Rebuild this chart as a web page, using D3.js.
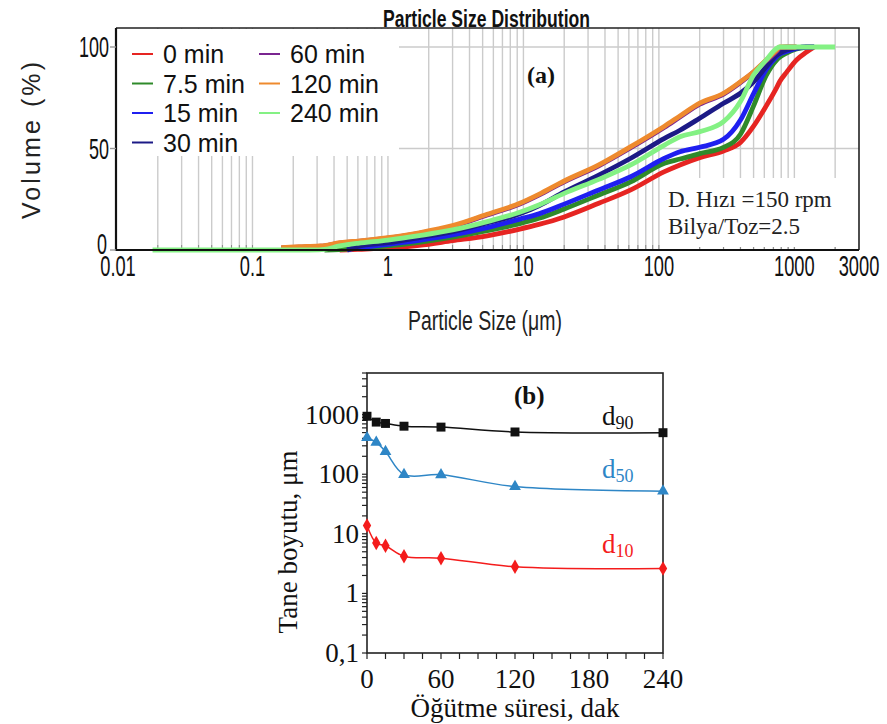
<!DOCTYPE html>
<html>
<head>
<meta charset="utf-8">
<script src="https://cdn.jsdelivr.net/npm/d3@7"></script>
<style>
  html, body { margin: 0; padding: 0; background: #fff; }
  svg { display: block; }
</style>
</head>
<body>
<svg id="fig" width="887" height="724"></svg>
<script>
// ---------- (a) cumulative particle size distribution ----------
const sizeBins = [0.0183, 0.163, 0.22, 0.31, 0.34, 0.44, 0.5, 0.6, 1.0, 1.7, 3.0, 5.4, 9.4, 13, 20, 36, 62, 110, 143, 200, 300, 400, 500, 620, 740, 780, 875, 1036, 1230, 1400, 2000];
const N = null;
const vol0   = [N, N, N, N, N, 0, 0.1, 0.3, 1.0, 2.3, 4.6, 7.0, 10.3, 12.6, 16.3, 23, 29.6, 38.6, 41.9, 45.5, 48.8, 53, 61, 71, 80, 83, 87.5, 93.6, 97.5, 100, N];
const vol7_5 = [N, N, N, N, 0, 0.2, 0.4, 0.8, 2.0, 3.8, 6.3, 9.5, 13, 15.6, 20.2, 27.1, 33.6, 42.7, 44.8, 47.5, 50.5, 57, 71, 86, 93.6, 95, 97, 99, 100, N, N];
const vol15  = [N, N, N, N, N, N, 0, 1.0, 2.8, 4.8, 7.4, 11.0, 15.2, 17.8, 22.6, 29.6, 36.1, 45.2, 48.4, 50.6, 54.5, 64, 77, 89, 95.2, 96.5, 97.8, 99.3, 100, 100, N];
const vol30  = [N, N, N, N, N, N, 0, 1.8, 3.6, 6.1, 9.0, 13.3, 17.8, 21.8, 28.6, 36.9, 45.2, 55, 59, 64.9, 72.3, 77.2, 82.9, 90.3, 96, 97, 98.5, 99.6, 100, 100, N];
const vol60  = [N, 1.0, 1.4, 1.8, 2.0, 3.4, 3.8, 4.2, 5.8, 8.2, 11.6, 17.2, 22.6, 27.0, 33.6, 41.5, 50.4, 60.5, 65.5, 71.8, 76.8, 82.5, 87.6, 93.2, 97.8, 99.5, 100, 100, N, N, N];
const vol120 = [N, 1.2, 1.6, 2.0, 2.2, 3.6, 4.0, 4.4, 6.1, 8.5, 12, 17.6, 23, 27.4, 34, 41.9, 50.9, 61, 66, 72.3, 77.2, 82.9, 87.8, 93.6, 98.5, 100, 100, 100, N, N, N];
const vol240 = [0, 0, 0, 0.1, 0.3, 2.0, 2.6, 3.3, 4.9, 7.1, 9.9, 14, 18.6, 22.2, 27.9, 34.8, 41.9, 51.7, 55.8, 58.3, 63.2, 73.1, 86.2, 93.6, 99.3, 100, 100, 100, 100, 100, 100];

const seriesNames  = ["0 min", "7.5 min", "15 min", "30 min", "60 min", "120 min", "240 min"];
const seriesColors = ["#e62522", "#2f8a2a", "#1f1ff0", "#1c1a86", "#7a2590", "#ee8a2e", "#84f184"];
const seriesValues = [vol0, vol7_5, vol15, vol30, vol60, vol120, vol240];

const sizeTicks   = [0.01, 0.1, 1, 10, 100, 1000, 3000];
const sizeTickTxt = ["0.01", "0.1", "1", "10", "100", "1000", "3000"];
const volTicks    = [0, 50, 100];

// ---------- (b) characteristic diameters vs. milling time ----------
const millTime = [0, 7.5, 15, 30, 60, 120, 240];
const d90 = [940, 750, 712, 640, 618, 512, 498];
const d50 = [410, 342, 240, 99, 98, 62, 52];
const d10 = [13.8, 7.0, 6.3, 4.2, 3.9, 2.8, 2.62];
const timeTicks = [0, 60, 120, 180, 240];
const sizeLogTicks = [0.1, 1, 10, 100, 1000];
const sizeLogTxt = ["0,1", "1", "10", "100", "1000"];

const svg = d3.select("#fig");
const SANS = "'Liberation Sans', Arial, sans-serif";
const SERIF = "'Liberation Serif', 'Times New Roman', serif";

// ======================= panel (a) =======================
const A = { left: 116, right: 859, top: 28, bottom: 250 };
const xA = d3.scaleLog().domain([0.01, 3000]).range([117, 859]);
const yA = d3.scaleLinear().domain([0, 100]).range([250, 47]);
const gA = svg.append("g");

// log grid: 1..9 per decade from 0.02 to 2000
const gridVals = [];
for (let e = -2; e <= 3; e++) {
  for (let k = 1; k <= 9; k++) {
    const v = k * Math.pow(10, e);
    if (v >= 0.019 && v <= 2001) gridVals.push(v);
  }
}
gA.append("g").selectAll("line").data(gridVals).join("line")
  .attr("x1", d => xA(d)).attr("x2", d => xA(d))
  .attr("y1", A.top).attr("y2", A.bottom)
  .attr("stroke", "#cbcbcb").attr("stroke-width", 1.4);
gA.append("g").selectAll("line").data([50, 100]).join("line")
  .attr("x1", A.left).attr("x2", A.right)
  .attr("y1", d => yA(d)).attr("y2", d => yA(d))
  .attr("stroke", "#cbcbcb").attr("stroke-width", 1.4);

// small inner ticks on the size axis
gA.append("g").selectAll("line").data(gridVals).join("line")
  .attr("x1", d => xA(d)).attr("x2", d => xA(d))
  .attr("y1", A.bottom).attr("y2", A.bottom - 5)
  .attr("stroke", "#888").attr("stroke-width", 1);

// white panels behind legend and run notes
gA.append("rect").attr("x", A.left + 1).attr("y", A.top + 1).attr("width", 282).attr("height", 127).attr("fill", "#fff");
gA.append("rect").attr("x", 661).attr("y", 178).attr("width", 196).attr("height", 69).attr("fill", "#fff");

// curves
const lineA = d3.line()
  .defined(d => d.v !== null)
  .x(d => xA(d.s)).y(d => yA(d.v))
  .curve(d3.curveMonotoneX);
seriesValues.forEach((vals, i) => {
  const pts = sizeBins.map((s, j) => ({ s, v: vals[j] }));
  gA.append("path").datum(pts)
    .attr("d", lineA)
    .attr("fill", "none")
    .attr("stroke", seriesColors[i])
    .attr("stroke-width", 4.8)
    .attr("stroke-linejoin", "round");
});

// frame
gA.append("path")
  .attr("d", `M${A.left},${A.top}H${A.right}V${A.bottom}`)
  .attr("fill", "none").attr("stroke", "#222").attr("stroke-width", 1.6);
gA.append("path")
  .attr("d", `M${A.left},${A.top}V${A.bottom}H${A.right}`)
  .attr("fill", "none").attr("stroke", "#111").attr("stroke-width", 2.2);

// volume ticks
gA.append("g").selectAll("line").data(volTicks).join("line")
  .attr("x1", A.left - 6).attr("x2", A.left)
  .attr("y1", d => yA(d)).attr("y2", d => yA(d))
  .attr("stroke", "#999").attr("stroke-width", 1.4);
gA.append("g").selectAll("text").data(volTicks).join("text")
  .attr("transform", d => `translate(${d === 0 ? 107 : 109},${yA(d) + (d === 0 ? 4 : 10)}) scale(0.62,1)`)
  .attr("text-anchor", "end")
  .attr("font-family", SANS).attr("font-size", 29).attr("fill", "#111")
  .text(d => d);

// size tick labels
gA.append("g").selectAll("text").data(sizeTicks).join("text")
  .attr("transform", d => `translate(${xA(d) + (d === 0.01 ? 1 : 0)},${276}) scale(0.63,1)`)
  .attr("text-anchor", "middle")
  .attr("font-family", SANS).attr("font-size", 29).attr("fill", "#111")
  .text((d, i) => sizeTickTxt[i]);

// titles
svg.append("text")
  .attr("x", 383).attr("y", 27)
  .attr("textLength", 207).attr("lengthAdjust", "spacingAndGlyphs")
  .attr("font-family", SANS).attr("font-weight", "bold").attr("font-size", 23)
  .attr("fill", "#111")
  .text("Particle Size Distribution");
svg.append("text")
  .attr("x", 408).attr("y", 330)
  .attr("textLength", 154).attr("lengthAdjust", "spacingAndGlyphs")
  .attr("font-family", SANS).attr("font-size", 27).attr("fill", "#222")
  .text("Particle Size (μm)");
svg.append("text")
  .attr("transform", "translate(40,219) rotate(-90)")
  .attr("textLength", 157).attr("lengthAdjust", "spacing")
  .attr("font-family", SANS).attr("font-size", 25).attr("fill", "#222")
  .text("Volume (%)");

// legend
const legRows = [63, 92.5, 122, 151.5];
seriesNames.forEach((name, i) => {
  const col = i < 4 ? 0 : 1;
  const row = i < 4 ? i : i - 4;
  const lx = col === 0 ? 132 : 259;
  const ty = legRows[row];
  gA.append("line")
    .attr("x1", lx).attr("x2", lx + 21)
    .attr("y1", ty - 9).attr("y2", ty - 9)
    .attr("stroke", seriesColors[i]).attr("stroke-width", 2);
  gA.append("text")
    .attr("x", lx + 31).attr("y", ty)
    .attr("font-family", SANS).attr("font-size", 25).attr("fill", "#111")
    .text(name);
});

// panel notes
gA.append("text").attr("x", 527).attr("y", 83)
  .attr("font-family", SERIF).attr("font-weight", "bold").attr("font-size", 24).attr("fill", "#111")
  .text("(a)");
gA.append("text").attr("x", 668).attr("y", 207)
  .attr("font-family", SERIF).attr("font-size", 23).attr("fill", "#222")
  .text("D. Hızı =150 rpm");
gA.append("text").attr("x", 668).attr("y", 234)
  .attr("font-family", SERIF).attr("font-size", 23).attr("fill", "#222")
  .text("Bilya/Toz=2.5");

// ======================= panel (b) =======================
const B = { left: 367, right: 663, top: 373, bottom: 653 };
const xB = d3.scaleLinear().domain([0, 240]).range([B.left, B.right]);
const yB = d3.scaleLog().domain([0.1, 5000]).range([B.bottom, B.top]);
const gB = svg.append("g");

// axes with outward ticks
const minorY = [];
for (let e = -1; e <= 3; e++) {
  for (let k = 1; k <= 9; k++) {
    const v = k * Math.pow(10, e);
    if (v <= 5000) minorY.push(v);
  }
}
gB.append("g").selectAll("line").data(minorY).join("line")
  .attr("x1", B.left - 5).attr("x2", B.left)
  .attr("y1", d => yB(d)).attr("y2", d => yB(d))
  .attr("stroke", "#222").attr("stroke-width", 1.2);
const minorX = d3.range(0, 241, 15);
gB.append("g").selectAll("line").data(minorX).join("line")
  .attr("x1", d => xB(d)).attr("x2", d => xB(d))
  .attr("y1", B.bottom).attr("y2", B.bottom + 6)
  .attr("stroke", "#222").attr("stroke-width", 1.2);

gB.append("rect")
  .attr("x", B.left).attr("y", B.top)
  .attr("width", B.right - B.left).attr("height", B.bottom - B.top)
  .attr("fill", "none").attr("stroke", "#222").attr("stroke-width", 1.6);

gB.append("g").selectAll("text").data(sizeLogTicks).join("text")
  .attr("x", 359).attr("y", d => yB(d) + 9)
  .attr("text-anchor", "end")
  .attr("font-family", SERIF).attr("font-size", 27).attr("fill", "#111")
  .text((d, i) => sizeLogTxt[i]);
gB.append("g").selectAll("text").data(timeTicks).join("text")
  .attr("x", d => xB(d)).attr("y", 688)
  .attr("text-anchor", "middle")
  .attr("font-family", SERIF).attr("font-size", 27).attr("fill", "#111")
  .text(d => d);

svg.append("text")
  .attr("x", 515).attr("y", 717)
  .attr("text-anchor", "middle")
  .attr("font-family", SERIF).attr("font-size", 27).attr("fill", "#111")
  .text("Öğütme süresi, dak");
svg.append("text")
  .attr("transform", "translate(297,542) rotate(-90)")
  .attr("text-anchor", "middle")
  .attr("font-family", SERIF).attr("font-size", 27).attr("fill", "#111")
  .text("Tane boyutu, μm");

const lineB = d3.line()
  .x(d => xB(d.t)).y(d => yB(d.v))
  .curve(d3.curveCatmullRom.alpha(0.5));

const bSeries = [
  { vals: d90, color: "#111111", shape: d3.symbolSquare, size: 80 },
  { vals: d50, color: "#2e86c6", shape: d3.symbolTriangle, size: 60 },
  { vals: d10, color: "#f41c1c", shape: d3.symbolDiamond, size: 60 }
];
bSeries.forEach(s => {
  const pts = millTime.map((t, i) => ({ t, v: s.vals[i] }));
  gB.append("path").datum(pts)
    .attr("d", lineB)
    .attr("fill", "none").attr("stroke", s.color).attr("stroke-width", 1.5);
  gB.append("g").selectAll("path").data(pts).join("path")
    .attr("transform", d => `translate(${xB(d.t)},${yB(d.v)})`)
    .attr("d", d3.symbol().type(s.shape).size(s.size))
    .attr("fill", s.color);
});

// series labels
const labelDefs = [
  { txt: "90", y: 425, color: "#111" },
  { txt: "50", y: 478, color: "#2e86c6" },
  { txt: "10", y: 553, color: "#f41c1c" }
];
labelDefs.forEach(l => {
  const t = gB.append("text").attr("x", 602).attr("y", l.y)
    .attr("font-family", SERIF).attr("font-size", 27).attr("fill", l.color);
  t.append("tspan").text("d");
  t.append("tspan").attr("dy", 4).attr("font-size", 18).text(l.txt);
});
gB.append("text").attr("x", 514).attr("y", 404)
  .attr("font-family", SERIF).attr("font-weight", "bold").attr("font-size", 25).attr("fill", "#111")
  .text("(b)");
</script>
</body>
</html>
